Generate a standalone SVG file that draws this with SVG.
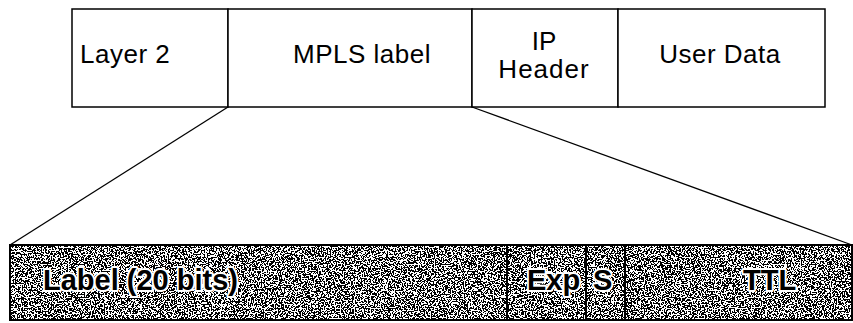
<svg xmlns="http://www.w3.org/2000/svg" width="853" height="323" viewBox="0 0 853 323">
<style>
.box{fill:#fff;stroke:#000;stroke-width:1.5}
.fld{fill:none;stroke:#000;stroke-width:2}
.t{font-family:"Liberation Sans",Arial,sans-serif;font-size:26px;fill:#000}
.b{font-family:"Liberation Sans",Arial,sans-serif;font-size:29px;font-weight:bold;fill:#000;stroke:#fff;stroke-width:4;stroke-linejoin:round;paint-order:stroke}
.ln{stroke:#000;stroke-width:1.3;fill:none}
</style>
<defs>
<filter id="noise" x="0" y="0" width="100%" height="100%" color-interpolation-filters="sRGB">
<feTurbulence type="fractalNoise" baseFrequency="0.7" numOctaves="3" seed="5" result="n"/>
<feColorMatrix in="n" type="matrix" values="0 0 0 0 0  0 0 0 0 0  0 0 0 0 0  3 0 0 0 -1.0" result="m"/>
<feComponentTransfer in="m" result="d"><feFuncA type="discrete" tableValues="0 1"/></feComponentTransfer>
<feComposite in="d" in2="SourceGraphic" operator="in"/>
</filter>
</defs>
<g id="layer2"><rect class="box" x="72" y="9" width="156" height="98"/><text class="t" x="80" y="63" letter-spacing="0.5">Layer 2</text></g>
<g id="mpls"><rect class="box" x="228" y="9" width="244" height="98"/><text class="t" x="362" y="63" text-anchor="middle" letter-spacing="0.5">MPLS label</text></g>
<g id="ip"><rect class="box" x="472" y="9" width="146" height="98"/><text class="t" x="544" y="50" text-anchor="middle" font-size="24">IP</text><text class="t" x="544" y="78" text-anchor="middle" font-size="24" letter-spacing="1">Header</text></g>
<g id="userdata"><rect class="box" x="618" y="9" width="207" height="98"/><text class="t" x="720" y="63" text-anchor="middle" letter-spacing="0.5">User Data</text></g>
<g id="connectors"><line class="ln" x1="228" y1="107" x2="10" y2="245"/><line class="ln" x1="472" y1="107" x2="852" y2="245"/></g>
<g id="fields">
<rect x="10" y="245" width="842" height="75" fill="#fff"/>
<rect x="10" y="245" width="842" height="75" fill="#000" filter="url(#noise)"/>
<g id="f-label"><rect class="fld" x="10" y="245" width="497" height="75"/><text class="b" x="43" y="290">Label (20 bits)</text></g>
<g id="f-exp"><rect class="fld" x="507" y="245" width="79" height="75"/><text class="b" x="527" y="290">Exp</text></g>
<g id="f-s"><rect class="fld" x="586" y="245" width="39" height="75"/><text class="b" x="593" y="290">S</text></g>
<g id="f-ttl"><rect class="fld" x="625" y="245" width="227" height="75"/><text class="b" x="743" y="290">TTL</text></g>
</g>
</svg>
